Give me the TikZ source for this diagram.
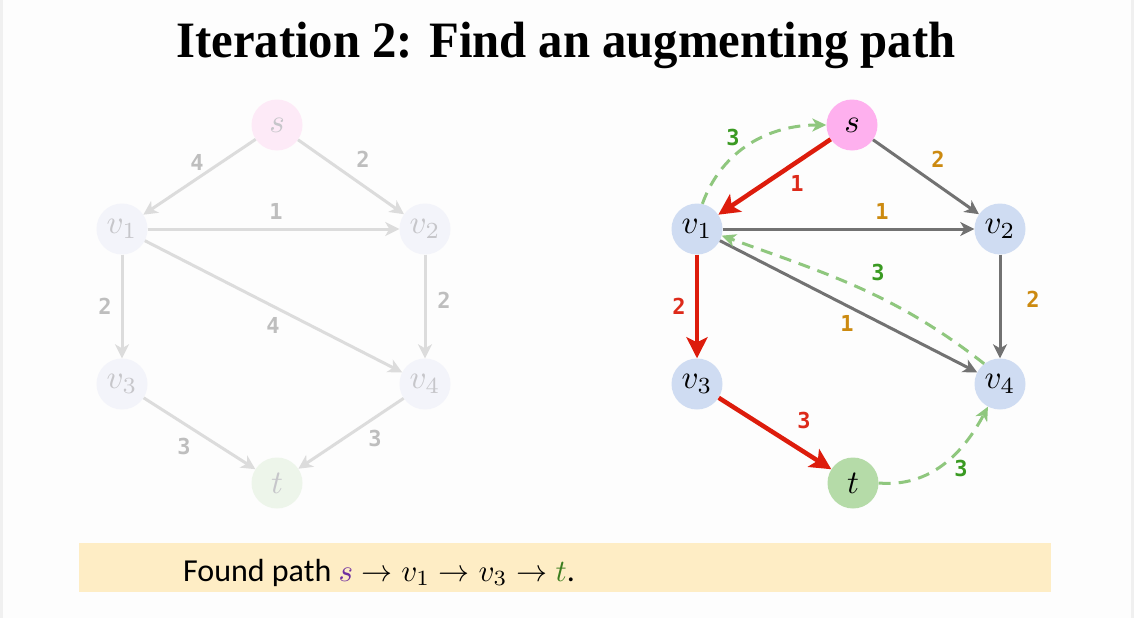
\documentclass[tikz,border=0pt]{standalone}
\usepackage{graphicx}
\usepackage{fontspec}
\setmainfont{Carlito}
\newfontfamily\titlefont[FakeStretch=0.955]{Liberation Serif}
\newfontfamily\labfont{DejaVu Sans Mono}
\usetikzlibrary{arrows.meta}
\definecolor{bgc}{HTML}{FDFDFD}
\definecolor{framec}{HTML}{F0F0F0}
\definecolor{sfill}{HTML}{FEB0EE}
\definecolor{vfill}{HTML}{CFDCF2}
\definecolor{tfill}{HTML}{B5DBA8}
\definecolor{fsfill}{HTML}{FDEAF7}
\definecolor{fvfill}{HTML}{F3F4FA}
\definecolor{ftfill}{HTML}{EDF5EA}
\definecolor{fadeedge}{HTML}{DCDCDC}
\definecolor{fadelab}{HTML}{BEBEBE}
\definecolor{fadetext}{HTML}{C6C6CA}
\definecolor{edgegray}{HTML}{727272}
\definecolor{pathred}{HTML}{DD1C0C}
\definecolor{resgreen}{HTML}{8FC77E}
\definecolor{labgreen}{HTML}{3A9A22}
\definecolor{laborange}{HTML}{CC8A10}
\definecolor{labred}{HTML}{DD2A1A}
\definecolor{bannerc}{HTML}{FEEDC5}
\definecolor{spurple}{HTML}{7030A0}
\definecolor{tgreen}{HTML}{3A7D1E}
\newcommand{\vlabel}[1]{\scalebox{3.3}{$#1$}}
\tikzset{
  vert/.style={circle, minimum size=51pt, inner sep=0pt, font=\fontsize{10}{12}\selectfont},
  lab/.style={inner sep=0pt, font=\labfont\bfseries\fontsize{22}{22}\selectfont},
  fedge/.style={draw=fadeedge, line width=3pt, -{Stealth[length=14pt,width=14pt,inset=4pt]}},
  gedge/.style={draw=edgegray, line width=3pt, -{Stealth[length=14pt,width=14pt,inset=4pt]}},
  redge/.style={draw=pathred, line width=4.5pt, -{Stealth[length=21pt,width=21pt,inset=5pt]}},
  resid/.style={draw=resgreen, line width=3pt, dash pattern=on 12pt off 8pt, -{Stealth[length=14pt,width=13pt,inset=4pt]}}
}
\begin{document}
\begin{tikzpicture}[x=1pt,y=-1pt]
\useasboundingbox (0,0) rectangle (1134,618);
\fill[bgc] (0,0) rectangle (1134,618);
\fill[framec] (0,0) rectangle (3,618);
\fill[framec] (1131,0) rectangle (1134,618);
% title
\node[anchor=base, inner sep=0pt, font=\titlefont\bfseries\fontsize{51}{51}\selectfont] (title) at (566,57) {Iteration 2: Find an augmenting path};
% left faded graph
\node[vert, fill=fsfill, text=fadetext] (ls) at (277,125) {\vlabel{s}};
\node[vert, fill=fvfill, text=fadetext] (lv1) at (122,229) {\vlabel{v_1}};
\node[vert, fill=fvfill, text=fadetext] (lv2) at (425,229) {\vlabel{v_2}};
\node[vert, fill=fvfill, text=fadetext] (lv3) at (122,384) {\vlabel{v_3}};
\node[vert, fill=fvfill, text=fadetext] (lv4) at (425,384) {\vlabel{v_4}};
\node[vert, fill=ftfill, text=fadetext] (lt) at (277,483) {\vlabel{t}};
\draw[fedge] (ls) -- (lv1);
\draw[fedge] (ls) -- (lv2);
\draw[fedge] (lv1) -- (lv2);
\draw[fedge] (lv1) -- (lv3);
\draw[fedge] (lv1) -- (lv4);
\draw[fedge] (lv2) -- (lv4);
\draw[fedge] (lv3) -- (lt);
\draw[fedge] (lv4) -- (lt);
\node[lab, text=fadelab] (la) at (197,162) {4};
\node[lab, text=fadelab] (lb) at (363,159) {2};
\node[lab, text=fadelab] (lc) at (276,211) {1};
\node[lab, text=fadelab] (ld) at (105,306) {2};
\node[lab, text=fadelab] (le) at (273,325) {4};
\node[lab, text=fadelab] (lf) at (444,300) {2};
\node[lab, text=fadelab] (lg) at (184,446) {3};
\node[lab, text=fadelab] (lh) at (375,438) {3};
% right graph
\node[vert, fill=sfill] (s) at (852,125) {\vlabel{s}};
\node[vert, fill=vfill] (v1) at (697,229) {\vlabel{v_1}};
\node[vert, fill=vfill] (v2) at (1000,229) {\vlabel{v_2}};
\node[vert, fill=vfill] (v3) at (697,384) {\vlabel{v_3}};
\node[vert, fill=vfill] (v4) at (1000,384) {\vlabel{v_4}};
\node[vert, fill=tfill] (t) at (853,483) {\vlabel{t}};
\draw[gedge] (s) -- (v2);
\draw[gedge] (v1) -- (v2);
\draw[gedge] (v1) -- (v4);
\draw[gedge] (v2) -- (v4);
\draw[redge] (s) -- (v1);
\draw[redge] (v1) -- (v3);
\draw[redge] (v3) -- (t);
\draw[resid] (v1.78) to[out=70, in=180] (s.west);
\draw[resid] (v4.128) to[out=142, in=-20] (v1.-15);
\draw[resid] (t.east) to[out=-5, in=-118] (v4.-118);
\node[lab, text=labgreen] (r1) at (733,137) {3};
\node[lab, text=labred] (r2) at (797,183) {1};
\node[lab, text=laborange] (r3) at (938,159) {2};
\node[lab, text=laborange] (r4) at (882,211) {1};
\node[lab, text=labgreen] (r5) at (878,272) {3};
\node[lab, text=labred] (r6) at (679,306) {2};
\node[lab, text=laborange] (r7) at (847,323) {1};
\node[lab, text=laborange] (r8) at (1033,299) {2};
\node[lab, text=labred] (r9) at (804,420) {3};
\node[lab, text=labgreen] (r10) at (961,468) {3};
% banner
\fill[bannerc] (79,543) rectangle (1051,592);
\node[anchor=base west, inner sep=0pt, font=\fontsize{32}{32}\selectfont] (found) at (183,581) {Found path {\fontsize{10}{12}\selectfont\scalebox{3.1}{$\textcolor{spurple}{s}\to v_1\to v_3\to \textcolor{tgreen}{t}$}}.};
\end{tikzpicture}
\end{document}
